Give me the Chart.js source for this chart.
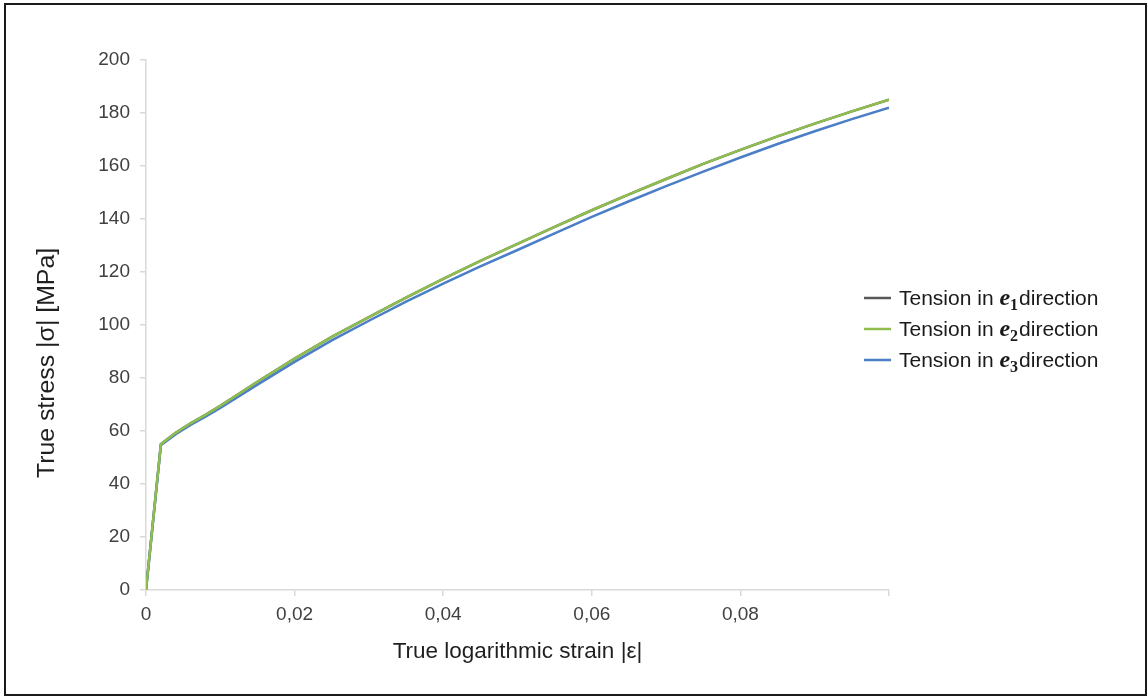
<!DOCTYPE html>
<html>
<head>
<meta charset="utf-8">
<script src="https://cdn.jsdelivr.net/npm/chart.js@4/dist/chart.umd.min.js"></script>
<style>
  html, body { margin: 0; padding: 0; background: #fff; }
  #wrap { position: relative; width: 1148px; height: 697px; overflow: hidden; }
  #c { position: absolute; left: 0; top: 0; }
  #frame { position: absolute; left: 4px; top: 3px; width: 1143px; height: 693px;
           box-sizing: border-box; border: 2px solid #1a1a1a; pointer-events: none; }
</style>
</head>
<body>
<div id="wrap">
  <canvas id="c" width="1148" height="697"></canvas>
  <div id="frame"></div>
</div>
<script>
// True logarithmic strain |ε| (shared by all three curves)
const strain = [0, 0.002, 0.004, 0.006, 0.008, 0.01, 0.015, 0.02, 0.025, 0.03, 0.035, 0.04,
                0.045, 0.05, 0.055, 0.06, 0.065, 0.07, 0.075, 0.08, 0.085, 0.09, 0.095, 0.1];

// True stress |σ| [MPa] for tension in each material direction
const stressE1 = [0, 55, 59.3, 62.9, 66.1, 69.5, 78.6, 87.3, 95.5, 103, 110.3, 117.4,
                  124.2, 130.6, 137, 143.3, 149.3, 155.1, 160.8, 166.1, 171.2, 176, 180.6, 185];
const stressE2 = [0, 55, 59.3, 62.9, 66.1, 69.5, 78.6, 87.3, 95.5, 103, 110.3, 117.4,
                  124.2, 130.6, 137, 143.3, 149.3, 155.1, 160.8, 166.1, 171.2, 176, 180.6, 185];
const stressE3 = [0, 54.6, 58.8, 62.3, 65.4, 68.7, 77.5, 86.1, 94.2, 101.6, 108.8, 115.6,
                  122.1, 128.3, 134.6, 140.8, 146.7, 152.4, 157.9, 163.2, 168.3, 173.1, 177.7, 182];

// Legend text pieces: "Tension in e_i direction"
const legendPrefix = 'Tension in ';
const legendSymbol = 'e';
const legendSubscripts = ['1', '2', '3'];
const legendSuffix = 'direction';

const seriesLabels = legendSubscripts.map(s => legendPrefix + legendSymbol + s + ' ' + legendSuffix);
const seriesColors = ['#595959', '#8fbe4f', '#4a7ec6'];

// Axis text
const xTitle = 'True logarithmic strain |ε|';
const yTitle = 'True stress |σ| [MPa]';
const xTickStep = 0.02;
const yTickStep = 20;

const toPoints = ys => strain.map((x, i) => ({ x: x, y: ys[i] }));

const SANS = '"Liberation Sans", Arial, sans-serif';
const SERIF = '"Liberation Serif", "DejaVu Serif", serif';

// Draws the rotated y-axis title and the right-hand legend with the bold italic e_i symbol
const decorations = {
  id: 'decorations',
  afterDraw(chart) {
    const ctx = chart.ctx;
    ctx.save();
    // y-axis title
    ctx.translate(48, 363);
    ctx.rotate(-Math.PI / 2);
    ctx.scale(1.08, 1);
    ctx.font = '23px ' + SANS;
    ctx.fillStyle = '#1f1f1f';
    ctx.textAlign = 'center';
    ctx.textBaseline = 'middle';
    ctx.fillText(yTitle, 0, 0);
    ctx.restore();

    // legend
    ctx.save();
    chart.data.datasets.forEach((ds, i) => {
      const y = 298 + i * 31;
      ctx.strokeStyle = ds.borderColor;
      ctx.lineWidth = 2.5;
      ctx.beginPath();
      ctx.moveTo(864, y);
      ctx.lineTo(891, y);
      ctx.stroke();

      ctx.fillStyle = '#1a1a1a';
      ctx.textAlign = 'left';
      ctx.textBaseline = 'alphabetic';
      const base = y + 7;
      let x = 899;
      ctx.font = '21px ' + SANS;
      ctx.fillText(legendPrefix, x, base);
      x += ctx.measureText(legendPrefix).width;
      ctx.font = 'italic bold 24px ' + SERIF;
      ctx.fillText(legendSymbol, x, base);
      x += ctx.measureText(legendSymbol).width;
      ctx.font = 'bold 16px ' + SERIF;
      ctx.fillText(legendSubscripts[i], x, base + 5);
      x += ctx.measureText(legendSubscripts[i]).width + 1;
      ctx.font = '21px ' + SANS;
      ctx.fillText(legendSuffix, x, base);
    });
    ctx.restore();
  }
};

new Chart(document.getElementById('c'), {
  type: 'line',
  data: {
    datasets: [
      { label: seriesLabels[0], data: toPoints(stressE1), borderColor: seriesColors[0], order: 3 },
      { label: seriesLabels[1], data: toPoints(stressE2), borderColor: seriesColors[1], order: 1 },
      { label: seriesLabels[2], data: toPoints(stressE3), borderColor: seriesColors[2], order: 2 }
    ].map(d => Object.assign(d, { borderWidth: 2.5, pointRadius: 0, tension: 0, fill: false }))
  },
  options: {
    responsive: false,
    animation: false,
    layout: { padding: { left: 0, top: 60, right: 259, bottom: 0 } },
    plugins: { legend: { display: false }, tooltip: { enabled: false } },
    scales: {
      x: {
        type: 'linear',
        min: 0,
        max: 0.1,
        afterFit: s => { s.height = 107; },
        border: { color: '#d9d9d9', width: 1.5 },
        grid: { drawOnChartArea: false, drawTicks: true, tickLength: 6, color: '#d9d9d9', lineWidth: 1.5 },
        ticks: {
          stepSize: xTickStep,
          padding: 7,
          color: '#404040',
          font: { family: SANS, size: 19 },
          maxRotation: 0,
          callback: v => (Math.abs(v) < 1e-9 ? '0' : (Math.abs(v - 0.1) < 1e-9 ? '' : v.toFixed(2).replace('.', ',')))
        },
        title: {
          display: true,
          text: xTitle,
          color: '#1f1f1f',
          font: { family: SANS, size: 22.5 },
          padding: { top: 0, bottom: 32 }
        }
      },
      y: {
        type: 'linear',
        min: 0,
        max: 200,
        afterFit: s => { s.width = 146; },
        border: { color: '#d9d9d9', width: 1.5 },
        grid: { drawOnChartArea: false, drawTicks: true, tickLength: 6, color: '#d9d9d9', lineWidth: 1.5 },
        ticks: {
          stepSize: yTickStep,
          padding: 10,
          color: '#404040',
          font: { family: SANS, size: 19 }
        }
      }
    }
  },
  plugins: [decorations]
});
</script>
</body>
</html>
